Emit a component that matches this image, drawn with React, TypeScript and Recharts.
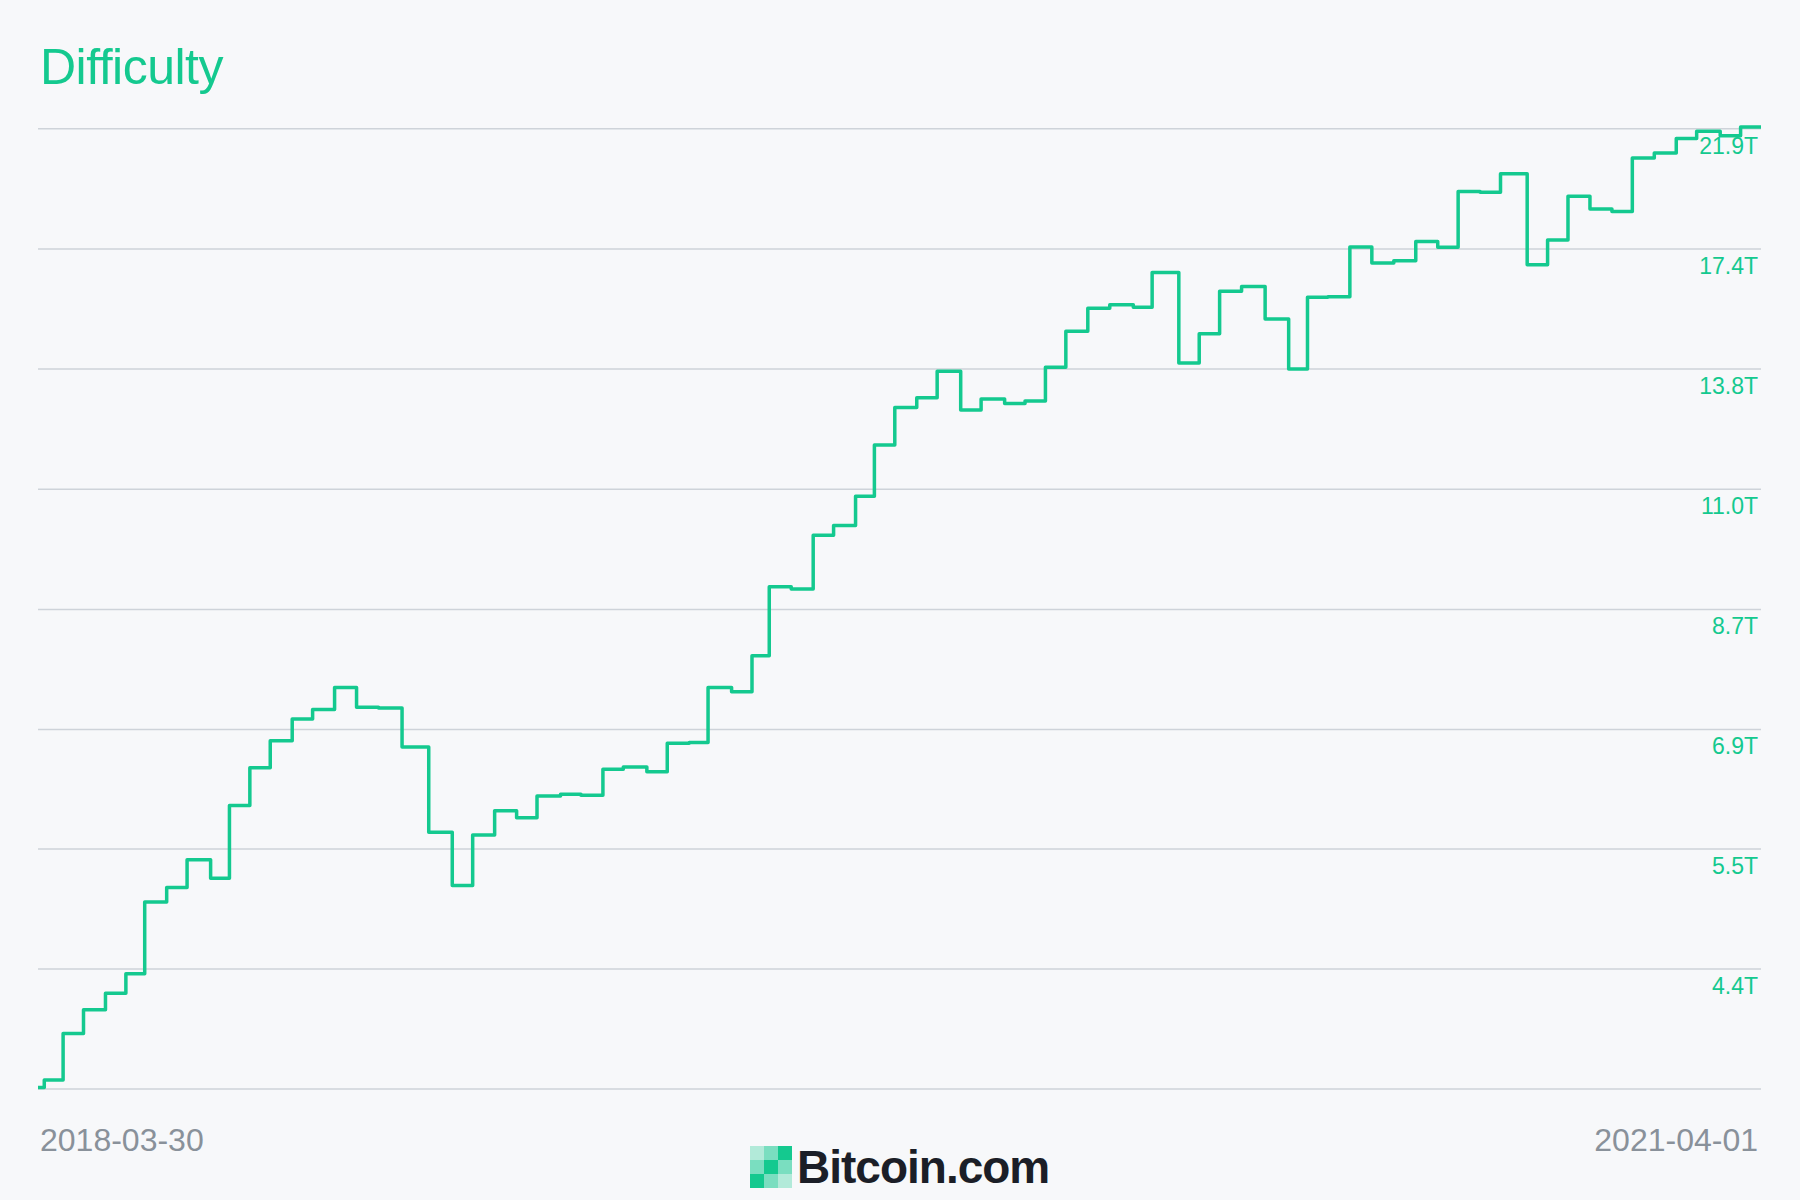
import React from "react";
import { LineChart, Line, XAxis, YAxis, ReferenceLine } from "recharts";

// ── Data ───────────────────────────────────────────────────────────────────
// difficulty adjustments (date the step starts, value in T)
const adjustDates = [
  "2018-03-30", "2018-04-03", "2018-04-15", "2018-04-28", "2018-05-12", "2018-05-25",
  "2018-06-06", "2018-06-20", "2018-07-03", "2018-07-18", "2018-07-30", "2018-08-12",
  "2018-08-25", "2018-09-08", "2018-09-21", "2018-10-05", "2018-10-19", "2018-11-02",
  "2018-11-17", "2018-12-04", "2018-12-19", "2019-01-01", "2019-01-15", "2019-01-29",
  "2019-02-11", "2019-02-26", "2019-03-11", "2019-03-25", "2019-04-07", "2019-04-22",
  "2019-05-05", "2019-05-19", "2019-05-31", "2019-06-15", "2019-06-28", "2019-07-09",
  "2019-07-23", "2019-08-06", "2019-08-19", "2019-09-02", "2019-09-14", "2019-09-27",
  "2019-10-11", "2019-10-24", "2019-11-08", "2019-11-21", "2019-12-06", "2019-12-19",
  "2020-01-01", "2020-01-14", "2020-01-28", "2020-02-11", "2020-02-26", "2020-03-09",
  "2020-03-26", "2020-04-08", "2020-04-21", "2020-05-05", "2020-05-20", "2020-06-04",
  "2020-06-16", "2020-06-29", "2020-07-13", "2020-07-27", "2020-08-10", "2020-08-24",
  "2020-09-07", "2020-09-20", "2020-10-04", "2020-10-17", "2020-11-03", "2020-11-16",
  "2020-11-29", "2020-12-13", "2020-12-27", "2021-01-09", "2021-01-23", "2021-02-06",
  "2021-02-19", "2021-03-06", "2021-03-19", "2021-04-01",
];

const difficulty = [
  3.49, 3.54, 3.87, 4.05, 4.18, 4.34,
  4.98, 5.12, 5.40, 5.21, 5.99, 6.44,
  6.78, 7.07, 7.20, 7.51, 7.23, 7.22,
  6.70, 5.69, 5.14, 5.66, 5.93, 5.85,
  6.10, 6.12, 6.11, 6.42, 6.45, 6.39,
  6.75, 6.76, 7.51, 7.45, 7.98, 9.11,
  9.07, 10.05, 10.24, 10.83, 11.95, 12.84,
  13.08, 13.76, 12.78, 13.05, 12.94, 13.00,
  13.87, 14.86, 15.53, 15.63, 15.56, 16.63,
  13.98, 14.79, 16.04, 16.19, 15.21, 13.82,
  15.86, 15.87, 17.46, 16.93, 17.01, 17.65,
  17.45, 19.42, 19.39, 20.09, 16.88, 17.70,
  19.24, 18.78, 18.69, 20.71, 20.91, 21.49,
  21.79, 21.61, 21.97, 21.97,
];

const yTicks = [3.48, 4.38, 5.51, 6.93, 8.72, 10.98, 13.82, 17.39, 21.9];
const xTickLabels = ["2018-03-30", "2021-04-01"];

const data = adjustDates.map((d, i) => ({ t: Date.parse(d), value: difficulty[i] }));
const xTicks = xTickLabels.map((d) => Date.parse(d));

// ── Style tokens ───────────────────────────────────────────────────────────
const GREEN = "#14c98f";
const GRID = "#ced3d9";
const GREY = "#89919a";
const BG = "#f7f8fa";
const FONT = "'Liberation Sans', Arial, Helvetica, sans-serif";

const YTick = (props: any) => {
  const { x, y, payload } = props;
  if (payload.value === yTicks[0]) return <g />;
  return (
    <text x={x - 3} y={y + 25} textAnchor="end" fill={GREEN} fontSize={23} fontFamily={FONT}>
      {payload.value.toFixed(1) + "T"}
    </text>
  );
};

const XTick = (props: any) => {
  const { x, y, index } = props;
  return (
    <text
      x={index === 0 ? x + 2 : x - 3}
      y={y + 62}
      textAnchor={index === 0 ? "start" : "end"}
      fill={GREY}
      fontSize={32}
      fontFamily={FONT}
    >
      {xTickLabels[index]}
    </text>
  );
};

const logoCells = [
  [0.3, 0.55, 1],
  [0.55, 1, 0.55],
  [1, 0.55, 0.3],
];

const App: React.FC = () => (
  <div style={{ position: "absolute", left: 0, top: 0, width: 1800, height: 1200, background: BG }}>
    <LineChart
      width={1800}
      height={1200}
      data={data}
      margin={{ top: 124, right: 38, bottom: 110, left: 38 }}
    >
      <XAxis
        dataKey="t"
        type="number"
        domain={[xTicks[0], xTicks[1]]}
        ticks={xTicks}
        interval={0}
        height={1}
        axisLine={false}
        tickLine={false}
        tickSize={0}
        tickMargin={0}
        tick={<XTick />}
      />
      <YAxis
        orientation="right"
        scale="log"
        type="number"
        domain={[3.48, 22.1]}
        ticks={yTicks}
        interval={0}
        width={1}
        axisLine={false}
        tickLine={false}
        tickSize={0}
        tickMargin={0}
        tick={<YTick />}
      />
      {yTicks.map((v) => (
        <ReferenceLine key={v} y={v} stroke={GRID} strokeWidth={1.5} ifOverflow="visible" />
      ))}
      <Line
        type="stepAfter"
        dataKey="value"
        stroke={GREEN}
        strokeWidth={3.5}
        strokeLinejoin="round"
        dot={false}
        activeDot={false}
        isAnimationActive={false}
      />
    </LineChart>

    <svg
      width={1800}
      height={1200}
      style={{ position: "absolute", left: 0, top: 0, pointerEvents: "none" }}
    >
      <text x={40} y={84} fill={GREEN} fontSize={50} fontFamily={FONT} letterSpacing={-0.5}>
        Difficulty
      </text>
      {logoCells.map((row, r) =>
        row.map((o, c) => (
          <rect
            key={`${r}-${c}`}
            x={750 + c * 14}
            y={1146 + r * 14}
            width={14}
            height={14}
            fill={GREEN}
            fillOpacity={o}
          />
        ))
      )}
      <text
        x={797}
        y={1183}
        fill="#1b1e27"
        fontSize={46}
        fontWeight="bold"
        fontFamily={FONT}
        letterSpacing={-1}
      >
        Bitcoin.com
      </text>
    </svg>
  </div>
);

export default App;
